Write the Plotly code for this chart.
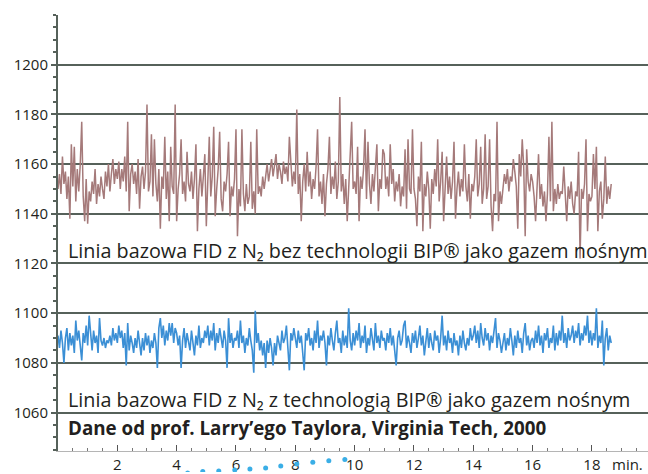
import plotly.graph_objects as go

SAMPLE_MIN = 0.05  # sampling interval in minutes

# Baseline WITHOUT BIP (brown), one value per 0.05 min
brown = [
1150,1156,1148,1163,1152,1157,1146,1155,1138,1168,1151,1167,1145,1158,1149,1160,1177,1147,1137,1154,
1136,1149,1145,1153,1148,1158,1144,1152,1147,1155,1150,1146,1157,1151,1160,1149,1156,1162,1152,1158,
1154,1161,1150,1158,1153,1163,1149,1177,1141,1156,1160,1152,1157,1148,1162,1142,1155,1159,1150,1157,
1184,1149,1153,1172,1147,1170,1152,1145,1158,1134,1155,1150,1171,1146,1157,1137,1167,1151,1148,1184,
1137,1150,1156,1170,1148,1153,1145,1165,1152,1149,1157,1146,1154,1168,1133,1150,1158,1147,1155,1164,
1135,1152,1171,1147,1155,1175,1139,1150,1158,1173,1146,1141,1153,1149,1156,1169,1139,1151,1147,1154,
1174,1131,1150,1143,1174,1148,1141,1152,1144,1147,1169,1142,1149,1140,1174,1148,1151,1147,1155,1150,
1156,1160,1153,1158,1162,1155,1159,1164,1154,1160,1157,1152,1161,1156,1159,1153,1171,1158,1151,1157,
1152,1182,1148,1156,1137,1153,1160,1149,1165,1151,1157,1146,1154,1150,1159,1174,1147,1153,1144,1156,
1139,1152,1158,1171,1148,1155,1150,1161,1146,1153,1187,1149,1156,1144,1154,1137,1151,1158,1177,1150,
1153,1148,1167,1137,1155,1150,1158,1174,1146,1169,1152,1144,1156,1149,1160,1168,1141,1154,1150,1166,
1164,1150,1155,1147,1168,1152,1158,1145,1153,1149,1156,1143,1151,1147,1166,1142,1170,1150,1148,1174,
1150,1146,1135,1155,1149,1169,1133,1152,1147,1157,1150,1134,1154,1148,1158,1151,1170,1145,1153,1165,
1137,1152,1163,1148,1155,1146,1153,1169,1138,1150,1157,1147,1154,1149,1168,1151,1145,1156,1138,1152,
1149,1155,1170,1147,1152,1167,1144,1150,1172,1146,1151,1170,1143,1133,1148,1145,1177,1137,1149,1144,
1150,1156,1152,1158,1149,1155,1153,1162,1157,1151,1134,1164,1155,1170,1159,1131,1166,1153,1149,1156,
1153,1147,1137,1150,1164,1146,1152,1143,1149,1137,1148,1171,1145,1177,1141,1150,1144,1152,1146,1149,
1148,1159,1145,1137,1151,1146,1153,1144,1140,1149,1147,1165,1122,1150,1146,1152,1170,1133,1148,1145,
1147,1164,1150,1167,1133,1149,1153,1138,1146,1163,1144,1151,1146,1152,
]

# Baseline WITH BIP (blue), one value per 0.05 min
blue = [
1091,1086,1093,1088,1080,1090,1094,1085,1092,1087,1091,1084,1097,1089,1093,1086,1081,1092,1088,1095,
1087,1099,1090,1085,1093,1088,1091,1084,1098,1089,1087,1090,1086,1089,1088,1091,1087,1094,1089,1092,
1088,1095,1090,1093,1086,1092,1079,1096,1085,1091,1088,1084,1090,1086,1093,1087,1083,1090,1085,1092,
1087,1091,1084,1089,1086,1092,1088,1078,1094,1098,1090,1095,1087,1093,1089,1096,1091,1096,1088,1094,
1092,1087,1091,1078,1089,1094,1086,1092,1088,1085,1093,1089,1083,1091,1087,1095,1086,1090,1088,1093,
1090,1095,1087,1093,1089,1096,1085,1092,1088,1094,1090,1086,1093,1089,1078,1098,1088,1092,1086,1090,
1089,1093,1086,1097,1088,1091,1084,1090,1087,1094,1089,1085,1076,1101,1088,1092,1085,1089,1083,1088,
1078,1089,1084,1090,1086,1079,1088,1083,1091,1087,1085,1093,1088,1090,1095,1086,1077,1092,1089,1094,
1090,1086,1093,1088,1091,1085,1077,1092,1089,1094,1087,1090,1085,1093,1088,1097,1086,1091,1089,1093,
1088,1079,1091,1087,1094,1089,1085,1092,1097,1088,1090,1084,1093,1087,1091,1086,1102,1089,1085,1092,
1087,1093,1089,1096,1086,1091,1088,1095,1084,1090,1087,1094,1089,1085,1096,1088,1091,1086,1093,1089,
1090,1085,1092,1088,1094,1087,1091,1084,1079,1090,1093,1087,1089,1095,1097,1086,1091,1088,1084,1092,
1088,1093,1086,1090,1095,1087,1091,1083,1089,1094,1086,1092,1088,1085,1093,1089,1091,1084,1090,1099,
1087,1091,1085,1093,1088,1090,1084,1092,1087,1089,1083,1091,1086,1093,1088,1085,1090,1087,1094,1089,
1091,1095,1088,1093,1086,1096,1090,1087,1094,1089,1092,1085,1091,1088,1093,1098,1086,1092,1089,1084,
1088,1092,1085,1090,1087,1094,1089,1083,1091,1086,1093,1088,1090,1084,1092,1096,1087,1091,1085,1089,
1090,1086,1093,1088,1095,1087,1091,1084,1092,1089,1094,1086,1090,1088,1095,1085,1092,1087,1093,1089,
1099,1088,1092,1086,1094,1089,1091,1095,1088,1093,1090,1096,1087,1092,1089,1095,1091,1099,1088,1093,
1087,1092,1089,1102,1086,1091,1088,1097,1079,1090,1094,1085,1091,1088,
]

x_tick_vals = [2, 4, 6, 8, 10, 12, 14, 16, 18]
y_tick_vals = [1060, 1080, 1100, 1120, 1140, 1160, 1180, 1200]

label_top = "Linia bazowa FID z N₂ bez technologii BIP® jako gazem nośnym"
label_bottom = "Linia bazowa FID z N₂ z technologią BIP® jako gazem nośnym"
label_source = "Dane od prof. Larry’ego Taylora, Virginia Tech, 2000"
x_unit = "min."

# decorative dotted arc below the axis (minutes, signal units)
dot_x = [4.37, 4.88, 5.42, 5.96, 6.47, 7.00, 7.51, 8.05, 8.59, 9.13, 9.67]
dot_y = [1035.7, 1036.3, 1036.5, 1036.9, 1037.3, 1037.7, 1038.5, 1039.3, 1040.0, 1040.6, 1041.1]

t_brown = [i * SAMPLE_MIN for i in range(len(brown))]
t_blue = [i * SAMPLE_MIN for i in range(len(blue))]

FONT = "Open Sans"
TXT = "#231f20"
GRID = "#56615a"

H, TOP, STRIP = 474, 15, 21
PLOT_H = H - TOP
MAIN_BOTTOM = STRIP / PLOT_H
Y_RANGE = [1044.5, 1220]
PX_PER_UNIT = (PLOT_H - STRIP) / (Y_RANGE[1] - Y_RANGE[0])
STRIP_RANGE = [Y_RANGE[0] - STRIP / PX_PER_UNIT, Y_RANGE[0]]

fig = go.Figure()
fig.add_trace(go.Scatter(x=dot_x, y=dot_y, mode="markers", xaxis="x", yaxis="y2",
                         marker=dict(size=5, color="#3aaee6"), hoverinfo="skip", showlegend=False))
fig.add_trace(go.Scatter(x=t_brown, y=brown, mode="lines",
                         line=dict(color="#a57a7a", width=1.5), showlegend=False))
fig.add_trace(go.Scatter(x=t_blue, y=blue, mode="lines",
                         line=dict(color="#3b8fd5", width=1.6), showlegend=False))

fig.update_layout(
    width=648, height=H,
    margin=dict(l=58, r=0, t=TOP, b=0),
    paper_bgcolor="white", plot_bgcolor="white",
    font=dict(family=FONT, color=TXT, size=15),
    showlegend=False,
    yaxis=dict(domain=[MAIN_BOTTOM, 1]),
    yaxis2=dict(domain=[0, MAIN_BOTTOM], range=STRIP_RANGE, visible=False, showgrid=False,
                zeroline=False),
)
fig.update_xaxes(
    range=[0, 19.89], tickvals=x_tick_vals, ticks="inside", ticklen=6, tickwidth=1,
    tickcolor="#555555", showline=True, linecolor="#b5b5b5", linewidth=1, anchor="y",
    showgrid=False, zeroline=False, tickfont=dict(size=15, color=TXT),
    minor=dict(dtick=0.5, tick0=0, ticks="inside", ticklen=3, tickcolor="#777777", showgrid=False),
)
fig.update_layout(yaxis=dict(
    range=Y_RANGE, tickvals=y_tick_vals, ticks="outside", ticklen=5, tickwidth=1.5,
    tickcolor=GRID, showline=True, linecolor=GRID, linewidth=2,
    showgrid=True, gridcolor=GRID, gridwidth=2, zeroline=False,
    tickfont=dict(size=15, color=TXT),
    minor=dict(dtick=5, tick0=1060, ticks="outside", ticklen=3, tickcolor=GRID, showgrid=False),
))

fig.add_annotation(x=0.26, y=1125.4, xref="x", yref="y", text=label_top, showarrow=False,
                   xanchor="left", yanchor="middle", font=dict(size=19.8, color=TXT, family=FONT))
fig.add_annotation(x=0.26, y=1065.3, xref="x", yref="y", text=label_bottom, showarrow=False,
                   xanchor="left", yanchor="middle", font=dict(size=19.8, color=TXT, family=FONT))
fig.add_annotation(x=0.26, y=1053.9, xref="x", yref="y", text="<b>" + label_source + "</b>",
                   showarrow=False, xanchor="left", yanchor="middle",
                   font=dict(size=18.8, color=TXT, family=FONT))
fig.add_annotation(x=0.995, y=(H - 466) / PLOT_H, xref="paper", yref="paper", text=x_unit,
                   showarrow=False, xanchor="right", yanchor="middle",
                   font=dict(size=15, color=TXT, family=FONT))

# remove the default 8px page margin so the figure fills the window exactly
fig.write_html("out.html", config={"displayModeBar": False},
               post_script="document.body.style.margin='0';document.body.style.overflow='hidden';")
